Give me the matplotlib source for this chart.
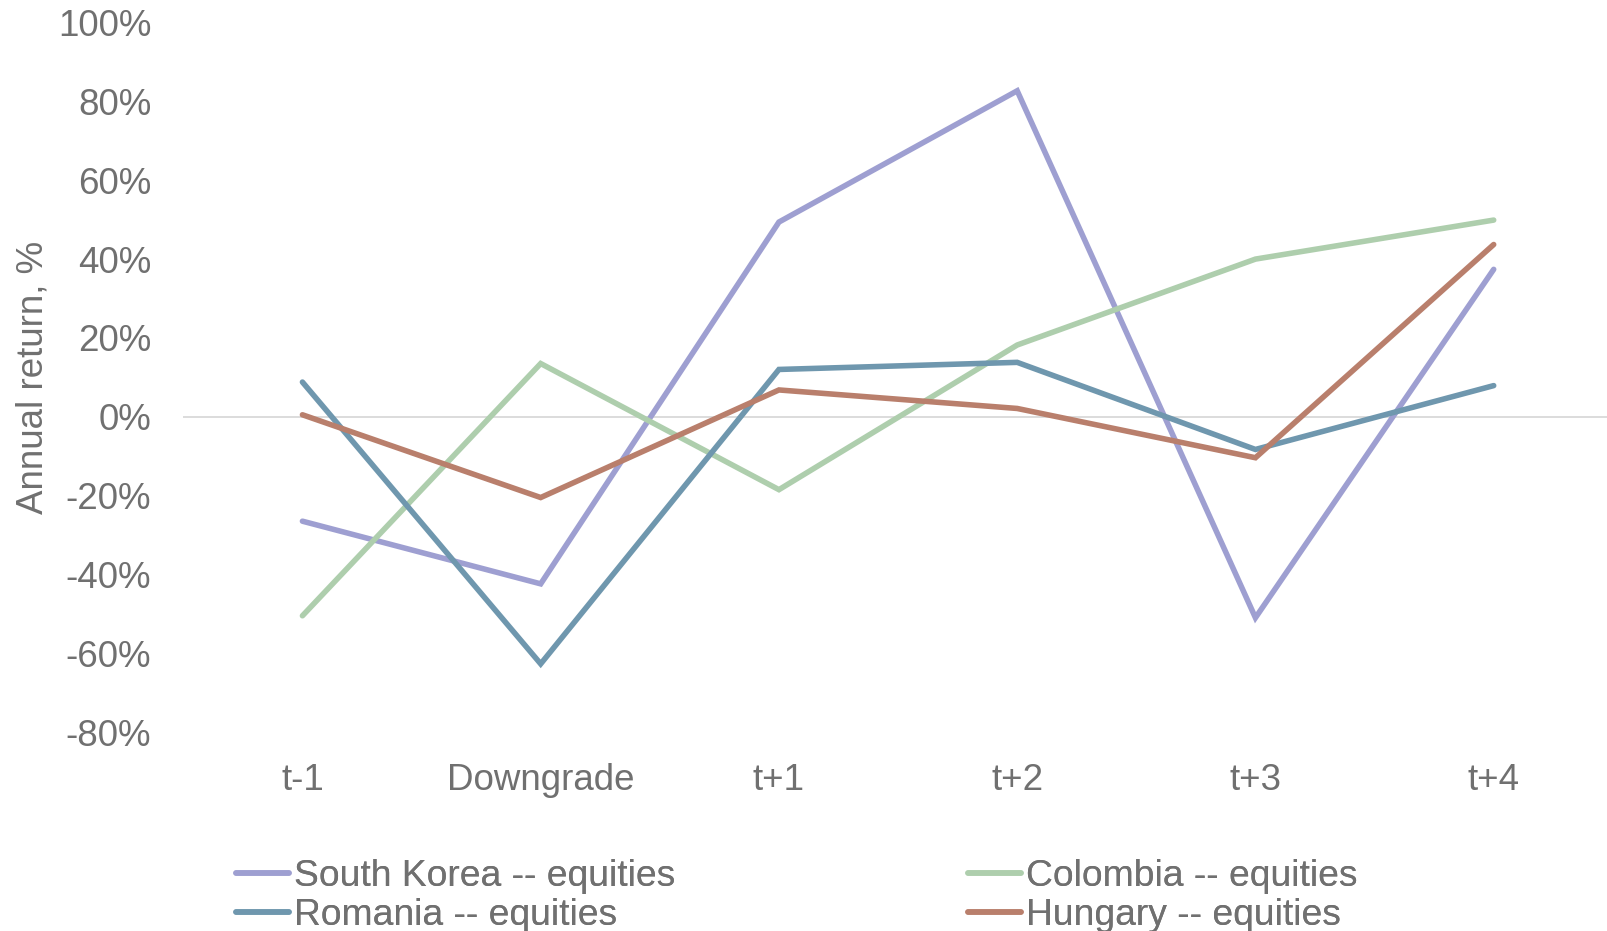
import numpy as np
import matplotlib
matplotlib.use("Agg")
import matplotlib.pyplot as plt
from matplotlib.ticker import FuncFormatter

# periods around the rating downgrade
periods = ["t-1", "Downgrade", "t+1", "t+2", "t+3", "t+4"]

# annual equity returns, %
south_korea = [-26.5, -42.4, 49.4, 82.7, -51.0, 37.4]
colombia = [-50.5, 13.5, -18.5, 18.2, 40.0, 49.9]
romania = [8.8, -62.7, 12.0, 13.8, -8.3, 7.9]
hungary = [0.5, -20.5, 6.8, 2.1, -10.4, 43.7]

series_names = ["South Korea -- equities", "Colombia -- equities",
                "Romania -- equities", "Hungary -- equities"]
series_colors = ["#9e9fd1", "#aecead", "#6f97ae", "#b97f6c"]

txt_gray = "#707070"
plt.rcParams['font.family'] = ['Liberation Sans', 'DejaVu Sans']

fig = plt.figure(figsize=(16.08, 9.31), dpi=100)
ax = fig.add_axes([0.114, 0.2137, 0.889, 0.762])

x = np.arange(len(periods))
lines = {}
for name, vals, col in zip(series_names, [south_korea, colombia, romania, hungary], series_colors):
    ln, = ax.plot(x, vals, color=col, lw=4.0, solid_joinstyle='miter',
                  solid_capstyle='round', label=name, zorder=3)
    lines[name] = ln

ax.axhline(0, color="#d9d9d9", lw=1.3, zorder=1)

ax.set_xlim(-0.5, len(periods) - 0.5)
ax.set_ylim(-80, 100)
ax.set_yticks(np.arange(-80, 101, 20))
ax.yaxis.set_major_formatter(FuncFormatter(lambda v, p: "%d%%" % v))
ax.set_xticks(x)
ax.set_xticklabels(periods)
ax.tick_params(axis='both', length=0, labelsize=26.5, labelcolor=txt_gray)
ax.tick_params(axis='y', pad=23)
ax.tick_params(axis='x', pad=22)
for s in ax.spines.values():
    s.set_visible(False)

fig.text(0.0205, 0.595, "Annual return, %", rotation=90, ha='center', va='center',
         fontsize=26.5, color=txt_gray)

# legend entries in a 2x2 grid, one small legend per entry
leg_cols = [0.1467, 0.602]
leg_rows = [0.0582, 0.0163]
grid = [["South Korea -- equities", "Colombia -- equities"],
        ["Romania -- equities", "Hungary -- equities"]]
for r, names in enumerate(grid):
    for c, n in enumerate(names):
        leg = fig.legend([lines[n]], [n], loc='center left',
                         bbox_to_anchor=(leg_cols[c], leg_rows[r]), frameon=False,
                         fontsize=26.8, handlelength=1.42, handletextpad=0.13,
                         borderpad=0, borderaxespad=0)
        leg.get_texts()[0].set_color(txt_gray)
        fig.add_artist(leg)

fig.savefig("out.png", dpi=100)
